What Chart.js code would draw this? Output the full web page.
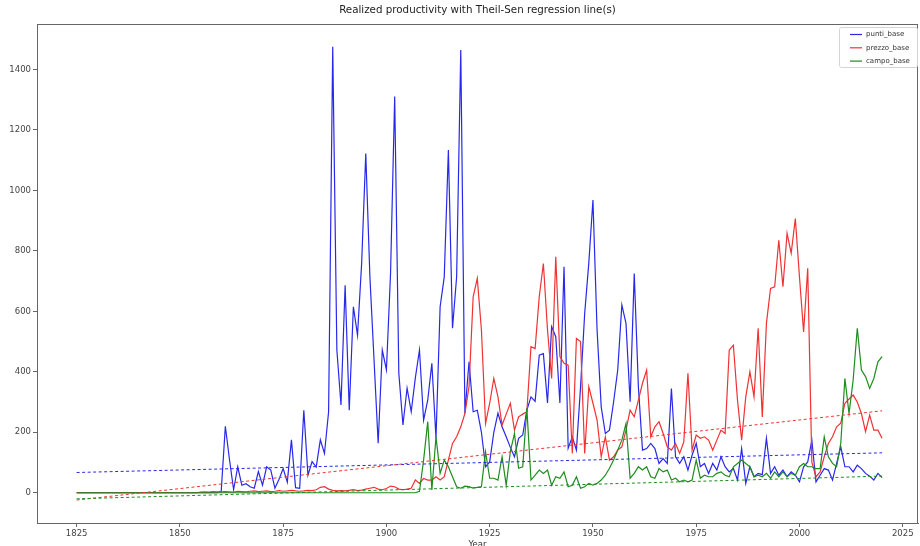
<!DOCTYPE html>
<html>
<head>
<meta charset="utf-8">
<title>Realized productivity</title>
<script src="https://cdn.jsdelivr.net/npm/chart.js@4.4.1/dist/chart.umd.min.js"></script>
<style>
  html, body { margin: 0; padding: 0; background: #fff; }
  #wrap { width: 920px; height: 546px; }
</style>
</head>
<body>
<div id="wrap"><canvas id="chart" width="920" height="546"></canvas></div>
<script>
/* Realized productivity — three series + Theil-Sen lines */

const FIRST_YEAR = 1825;
const LAST_YEAR  = 2020;

const chartTitle   = 'Realized productivity with Theil-Sen regression line(s)';
const seriesNames  = ['punti_base', 'prezzo_base', 'campo_base'];
const seriesColors = ['rgb(40,40,235)', 'rgb(240,50,50)', 'rgb(30,140,30)'];

const xTicks = [1825, 1850, 1875, 1900, 1925, 1950, 1975, 2000, 2025];
const yTicks = [0, 200, 400, 600, 800, 1000, 1200, 1400];

// one value per year, 1825..2020
const punti = [
  0, 0, 0, 0, 0,
  0, 0, 0, 0, 0, 0, 0, 0, 0, 0,
  0, 0, 0, 0, 0, 0, 0, 0, 0, 0,
  0, 0, 0, 0, 0, 0, 0, 0, 0, 0,
  5, 220, 110, 10, 86, 25, 30, 20, 15, 70,
  25, 86, 75, 15, 45, 80, 35, 175, 17, 15,
  273, 58, 103, 85, 175, 130, 268, 1475, 472, 290,
  686, 273, 615, 521, 759, 1122, 714, 440, 164, 472,
  406, 726, 1310, 395, 224, 346, 268, 380, 472, 240,
  306, 428, 180, 615, 714, 1133, 544, 714, 1464, 263,
  433, 268, 273, 200, 86, 102, 200, 263, 218, 185,
  150, 119, 180, 191, 273, 317, 302, 455, 460, 297,
  549, 516, 297, 747, 147, 185, 141, 350, 593, 760,
  968, 538, 284, 196, 207, 300, 406, 621, 560, 301,
  725, 351, 141, 146, 163, 146, 97, 113, 97, 345,
  119, 97, 119, 75, 124, 163, 86, 97, 64, 97,
  75, 119, 86, 69, 80, 42, 146, 31, 86, 53,
  64, 60, 180, 64, 86, 58, 75, 53, 69, 58,
  36, 86, 102, 174, 36, 58, 80, 75, 42, 97,
  152, 86, 86, 69, 91, 80, 64, 55, 42, 64,
  50
];

const prezzo = [
  0, 0, 0, 0, 0,
  0, 0, 0, 0, 0, 0, 0, 0, 0, 0,
  0, 0, 0, 0, 0, 0, 0, 0, 0, 0,
  0, 0, 0, 0, 0, 2, 3, 2, 4, 3,
  3, 4, 3, 2, 5, 4, 3, 5, 6, 4,
  5, 6, 4, 5, 7, 5, 6, 8, 6, 5,
  6, 8, 7, 10, 18, 20, 12, 8, 6, 7,
  6, 8, 10, 7, 9, 12, 15, 18, 12, 10,
  14, 22, 20, 12, 10, 12, 15, 42, 31, 47,
  42, 42, 53, 42, 53, 108, 163, 185, 218, 262,
  351, 648, 709, 538, 229, 296, 378, 317, 224, 260,
  296, 207, 251, 260, 268, 483, 477, 648, 758, 538,
  378, 780, 450, 428, 422, 130, 510, 500, 130, 351,
  296, 240, 119, 185, 108, 119, 141, 152, 207, 273,
  251, 306, 362, 406, 185, 218, 235, 196, 152, 141,
  163, 130, 168, 395, 141, 191, 180, 185, 174, 141,
  174, 207, 196, 472, 488, 306, 174, 317, 400, 317,
  544, 251, 560, 676, 681, 835, 681, 858, 792, 907,
  714, 532, 742, 100, 53, 69, 119, 163, 185, 218,
  230, 296, 310, 323, 300, 262, 202, 257, 207, 207,
  180
];

const campo = [
  0, 0, 0, 0, 0,
  0, 0, 0, 0, 0, 0, 0, 0, 0, 0,
  0, 0, 0, 0, 0, 0, 0, 0, 0, 0,
  0, 0, 0, 0, 0, 0, 0, 0, 0, 0,
  0, 0, 0, 0, 0, 0, 0, 0, 0, 0,
  0, 0, 0, 0, 0, 0, 0, 0, 0, 0,
  0, 0, 0, 0, 0, 0, 0, 0, 0, 0,
  0, 0, 0, 0, 0, 0, 0, 0, 0, 0,
  0, 0, 0, 0, 0, 0, 0, 0, 5, 108,
  235, 9, 185, 64, 108, 86, 53, 20, 15, 22,
  20, 15, 18, 20, 136, 48, 48, 42, 119, 25,
  136, 196, 81, 86, 279, 42, 58, 75, 64, 75,
  25, 53, 48, 69, 20, 25, 53, 15, 20, 31,
  25, 31, 42, 58, 81, 108, 141, 174, 229, 48,
  64, 86, 75, 86, 53, 48, 80, 69, 75, 42,
  48, 36, 42, 36, 42, 108, 48, 58, 53, 53,
  64, 69, 58, 53, 86, 97, 108, 97, 86, 53,
  58, 53, 64, 48, 69, 53, 69, 53, 64, 58,
  86, 97, 86, 86, 80, 80, 185, 119, 97, 86,
  163, 378, 262, 373, 544, 406, 384, 345, 378, 433,
  450
];

// Theil-Sen lines, value at first and last year
const trendYears  = [1825, 2020];
const puntiTrend  = [67, 132];
const prezzoTrend = [-24, 271];
const campoTrend  = [-20, 55];

const years = [];
for (let y = FIRST_YEAR; y <= LAST_YEAR; y++) years.push(y);

const toPoints = (xs, vs) => xs.map((x, i) => ({ x, y: vs[i] }));

function lineSet(label, values, color, order) {
  return {
    label, order,
    data: toPoints(years, values),
    borderColor: color,
    borderWidth: 1.2,
    pointRadius: 0,
    tension: 0,
  };
}

function trendSet(label, values, color, order) {
  return {
    label, order,
    data: toPoints(trendYears, values),
    borderColor: color,
    borderWidth: 1,
    borderDash: [3, 2.5],
    pointRadius: 0,
    tension: 0,
  };
}

// ── title over the plot, frame (top / right), legend in the corner ──
const frameAndLegend = {
  id: 'frameAndLegend',
  afterDraw(chart) {
    const { ctx, chartArea: a } = chart;
    ctx.save();

    ctx.fillStyle = '#222';
    ctx.font = '10.3px "DejaVu Sans"';
    ctx.textAlign = 'center';
    ctx.textBaseline = 'middle';
    ctx.fillText(chartTitle, (a.left + a.right) / 2, 10);

    ctx.strokeStyle = '#666';
    ctx.lineWidth = 1;
    ctx.strokeRect(a.left + 0.5, a.top + 0.5, a.right - a.left - 1, a.bottom - a.top);

    const w = 78, h = 40;
    const x = a.right - w - 1, y = a.top + 3;
    ctx.fillStyle = 'rgba(255,255,255,0.85)';
    ctx.strokeStyle = '#d4d4d4';
    ctx.beginPath();
    ctx.roundRect(x + 0.5, y + 0.5, w, h, 2);
    ctx.fill();
    ctx.stroke();

    ctx.font = '7px "DejaVu Sans"';
    ctx.textAlign = 'left';
    seriesNames.forEach((name, i) => {
      const ly = y + 7.5 + i * 13.3;
      ctx.strokeStyle = seriesColors[i];
      ctx.lineWidth = 1.2;
      ctx.beginPath();
      ctx.moveTo(x + 11, ly);
      ctx.lineTo(x + 23, ly);
      ctx.stroke();
      ctx.fillStyle = '#333';
      ctx.fillText(name, x + 27, ly);
    });
    ctx.restore();
  },
};

const tickFont = { family: "'DejaVu Sans'", size: 8.5 };

new Chart(document.getElementById('chart'), {
  type: 'line',
  data: {
    datasets: [
      lineSet(seriesNames[0], punti,  seriesColors[0], 6),
      trendSet('punti trend',  puntiTrend,  seriesColors[0], 3),
      lineSet(seriesNames[1], prezzo, seriesColors[1], 5),
      trendSet('prezzo trend', prezzoTrend, seriesColors[1], 2),
      lineSet(seriesNames[2], campo,  seriesColors[2], 4),
      trendSet('campo trend',  campoTrend,  seriesColors[2], 1),
    ],
  },
  options: {
    responsive: false,
    devicePixelRatio: 1,
    animation: false,
    layout: { padding: { left: 0, right: 2, top: 24, bottom: 0 } },
    plugins: {
      legend:  { display: false },
      tooltip: { enabled: false },
      title:   { display: false },
    },
    scales: {
      x: {
        type: 'linear',
        min: 1815.4,
        max: 2028.7,
        afterBuildTicks: axis => { axis.ticks = xTicks.map(v => ({ value: v })); },
        afterFit: axis => { axis.height = 23; },
        grid:   { drawOnChartArea: false, drawTicks: true, tickLength: 4, color: '#666' },
        border: { display: true, color: '#666', width: 1 },
        ticks:  { color: '#444', font: tickFont, padding: 2, maxRotation: 0, callback: v => String(v) },
        title:  { display: true, text: 'Year', color: '#333', font: tickFont, padding: { top: 0, bottom: -4 } },
      },
      y: {
        min: -100,
        max: 1550,
        afterBuildTicks: axis => { axis.ticks = yTicks.map(v => ({ value: v })); },
        afterFit: axis => { axis.width = 37; },
        grid:   { drawOnChartArea: false, drawTicks: true, tickLength: 4, color: '#666' },
        border: { display: true, color: '#666', width: 1 },
        ticks:  { color: '#444', font: tickFont, padding: 2, callback: v => String(v) },
      },
    },
  },
  plugins: [frameAndLegend],
});
</script>
</body>
</html>
